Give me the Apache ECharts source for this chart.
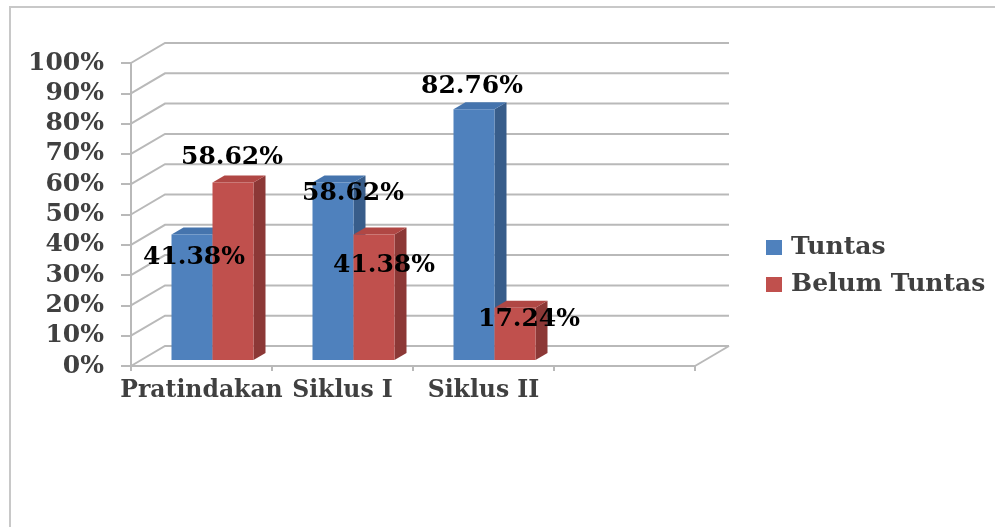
<!DOCTYPE html>
<html>
<head>
<meta charset="utf-8">
<script src="https://cdn.jsdelivr.net/npm/echarts@6/dist/echarts.min.js"></script>
<style>
  html, body { margin: 0; padding: 0; background: #fff; }
  #chart { width: 995px; height: 527px; }
</style>
</head>
<body>
<div id="chart"></div>
<script>
// values
const categories = ['Pratindakan', 'Siklus I', 'Siklus II', ''];
const tuntas = [41.38, 58.62, 82.76, null];
const belumTuntas = [58.62, 41.38, 17.24, null];
const yTicks = [0, 10, 20, 30, 40, 50, 60, 70, 80, 90, 100];

// label nudges (px from front-top centre of each bar), excel put them all over the place
const tuntasLabelShift = [[2, 23], [20, 11], [-2, -23]];
const belumLabelShift = [[-1, -25], [10, 31], [14, 12]];

// fake 3d
const WALL = [34, -20];   // front plane -> back wall
const OFF = [11, -6];     // where bar front faces sit
const DEPTH = [12, -7];   // bar thickness
const BAR_FRAC = 41 / 141;

const GRID_LINE = '#b9b9b9';
const FONT = '"DejaVu Serif", "Liberation Serif", serif';

const chart = echarts.init(document.getElementById('chart'));

function toData(arr) {
  const out = [];
  arr.forEach((v, i) => { if (v != null) out.push([i, v]); });
  return out;
}

function barRenderer(side, colors, shifts) {
  return function (params, api) {
    const cat = api.value(0);
    const val = api.value(1);
    const w = api.size([1, 0])[0] * BAR_FRAC;
    const top = api.coord([cat, val]);
    const bot = api.coord([cat, 0]);
    const x0 = top[0] + (side === 0 ? -w : 0) + OFF[0];
    const x1 = x0 + w;
    const yt = top[1] + OFF[1];
    const yb = bot[1] + OFF[1];
    const sh = shifts[params.dataIndex];
    return {
      type: 'group',
      children: [
        {
          type: 'polygon',
          shape: { points: [[x1, yt], [x1 + DEPTH[0], yt + DEPTH[1]], [x1 + DEPTH[0], yb + DEPTH[1]], [x1, yb]] },
          style: { fill: colors[2] }
        },
        {
          type: 'polygon',
          shape: { points: [[x0, yt], [x1, yt], [x1 + DEPTH[0], yt + DEPTH[1]], [x0 + DEPTH[0], yt + DEPTH[1]]] },
          style: { fill: colors[1] }
        },
        {
          type: 'rect',
          shape: { x: x0, y: yt, width: w, height: yb - yt },
          style: { fill: colors[0] }
        },
        {
          type: 'text',
          z2: 100,
          style: {
            text: val.toFixed(2) + '%',
            x: (x0 + x1) / 2 + sh[0],
            y: yt + sh[1],
            align: 'center',
            verticalAlign: 'middle',
            font: 'bold 25px ' + FONT,
            fill: '#000'
          }
        }
      ]
    };
  };
}

function frameRenderer(params, api) {
  const v = api.value(1);
  const half = api.size([1, 0])[0] / 2;
  const p = api.coord([0, v]);
  const left = p[0] - half;
  const y = p[1];
  const right = api.coord([categories.length - 1, v])[0] + half;
  const children = [{
    type: 'polyline',
    shape: { points: [[left, y], [left + WALL[0], y + WALL[1]], [right + WALL[0], y + WALL[1]]] },
    style: { stroke: GRID_LINE, lineWidth: 2, fill: null }
  }];
  if (v === 0) {
    children.push({
      type: 'line',
      shape: { x1: right, y1: y, x2: right + WALL[0], y2: y + WALL[1] },
      style: { stroke: GRID_LINE, lineWidth: 2 }
    });
  }
  return { type: 'group', children: children };
}

const option = {
  animation: false,
  backgroundColor: '#fff',
  graphic: [{
    type: 'rect',
    shape: { x: 10, y: 7, width: 1200, height: 800 },
    style: { fill: null, stroke: '#c8c8c8', lineWidth: 2 }
  }],
  legend: {
    data: ['Tuntas', 'Belum Tuntas'],
    orient: 'vertical',
    left: 761,
    top: 230,
    icon: 'rect',
    itemWidth: 16,
    itemHeight: 15,
    itemGap: 12,
    textStyle: { fontFamily: FONT, fontWeight: 'bold', fontSize: 25, color: '#404040', padding: [0, 0, 0, 4] }
  },
  grid: { left: 131, top: 63, width: 564, height: 303 },
  xAxis: {
    type: 'category',
    data: categories,
    axisLine: { lineStyle: { color: GRID_LINE, width: 2 } },
    axisTick: { show: true, length: 5, lineStyle: { color: GRID_LINE, width: 2 } },
    axisLabel: { interval: 0, hideOverlap: false, margin: 13, fontFamily: FONT, fontWeight: 'bold', fontSize: 23.5, color: '#404040' },
    splitLine: { show: false }
  },
  yAxis: {
    type: 'value',
    min: 0,
    max: 100,
    interval: 10,
    axisLine: { show: true, lineStyle: { color: GRID_LINE, width: 2 } },
    axisTick: { show: true, length: 10, lineStyle: { color: GRID_LINE, width: 2 } },
    axisLabel: { formatter: '{value}%', margin: 27, fontFamily: FONT, fontWeight: 'bold', fontSize: 25, color: '#404040' },
    splitLine: { show: false }
  },
  series: [
    {
      type: 'custom',
      silent: true,
      z: 1,
      renderItem: frameRenderer,
      data: yTicks.map(t => [0, t])
    },
    {
      name: 'Tuntas',
      type: 'custom',
      itemStyle: { color: '#4f81bd' },
      renderItem: barRenderer(0, ['#4f81bd', '#4574ad', '#385d8a'], tuntasLabelShift),
      data: toData(tuntas)
    },
    {
      name: 'Belum Tuntas',
      type: 'custom',
      itemStyle: { color: '#c0504d' },
      renderItem: barRenderer(1, ['#c0504d', '#b04744', '#8c3836'], belumLabelShift),
      data: toData(belumTuntas)
    }
  ]
};

chart.setOption(option);
</script>
</body>
</html>
